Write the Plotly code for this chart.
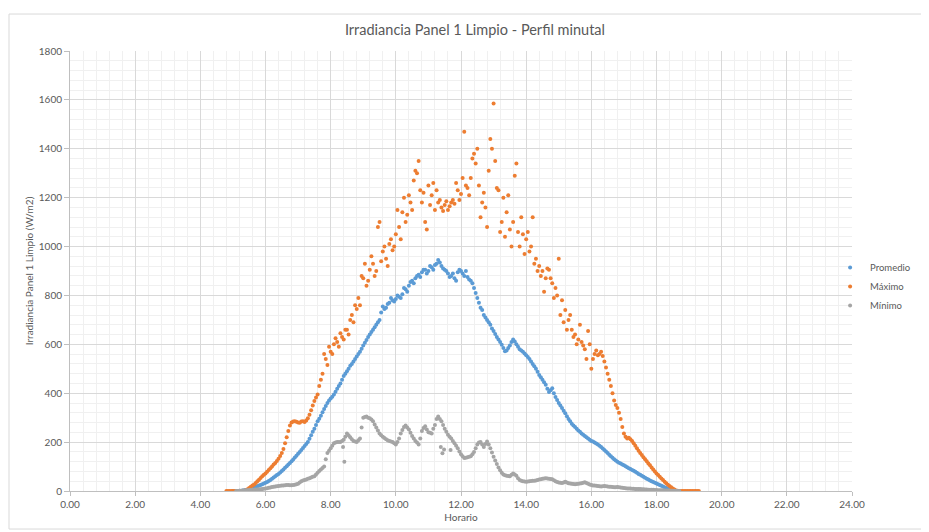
import plotly.graph_objects as go

# Horario: muestreo cada 0.1 h entre 4.8 y 19.3 h, más los minutos intermedios (x.x5)
horario = [round(4.8 + 0.1 * i, 1) for i in range(146)]
horario_medio = [round(4.85 + 0.1 * i, 2) for i in range(145)]

maximo = [
    0, 0,
    0, 0, 0, 0, 3, 12, 22, 33, 46, 60,
    72, 86, 100, 115, 132, 155, 195, 245, 280, 285,
    280, 284, 282, 298, 330, 368, 395, 455, 560, 515,
    570, 600, 610, 645, 620, 660, 700, 690, 745, 760,
    870, 840, 905, 930, 900, 1100, 980, 950, 1010, 985,
    1050, 1080, 1140, 1100, 1210, 1150, 1310, 1350, 1180, 1100,
    1250, 1210, 1150, 1180, 1160, 1170, 1150, 1180, 1175, 1230,
    1215, 1470, 1240, 1280, 1380, 1400, 1120, 1220, 1080, 1440,
    1585, 1240, 1060, 1200, 1140, 1070, 1100, 1340, 1000, 1050,
    1030, 980, 1120, 950, 920, 900, 870, 905, 850, 830,
    950, 780, 740, 700, 660, 640, 620, 610, 580, 655,
    500, 560, 555, 570, 530, 480, 430, 370, 340, 295,
    235, 215, 212, 195, 175, 155, 138, 122, 105, 88,
    72, 58, 45, 32, 20, 10, 2, 0, 0, 0,
    0, 0, 0, 0,
]
maximo_medio = [
    0, 0,
    0, 0, 0, 1, 7, 17, 27, 40, 53, 66,
    79, 93, 108, 123, 143, 172, 220, 268, 284, 283,
    279, 285, 288, 312, 350, 382, 430, 480, 540, 590,
    560, 625, 590, 630, 660, 640, 720, 760, 790, 880,
    930, 860, 960, 880, 1080, 940, 1000, 920, 1030, 1000,
    1150, 1030, 1200, 1130, 1180, 1270, 1300, 1230, 1220, 1070,
    1170, 1260, 1230, 1190, 1145, 1185, 1165, 1190, 1260, 1190,
    1280, 1250, 1210, 1360, 1340, 1250, 1180, 1160, 1310, 1400,
    1350, 1230, 1100, 1040, 1210, 1000, 1290, 1060, 1120, 970,
    1060, 1000, 930, 900, 880, 815, 910, 870, 790, 800,
    720, 690, 660, 720, 630, 600, 680, 595, 540, 600,
    540, 575, 560, 552, 505, 455, 400, 352, 320, 262,
    222, 218, 205, 185, 165, 147, 130, 113, 96, 80,
    65, 51, 38, 26, 15, 6, 1, 0, 0, 0,
    0, 0, 0,
]

promedio = [
    None, None,
    0, 0, 1, 2, 4, 7, 12, 17, 22, 28,
    34, 41, 50, 60, 70, 82, 95, 108, 122, 137,
    152, 168, 184, 200, 228, 255, 285, 308, 335, 360,
    378, 395, 418, 440, 470, 490, 512, 530, 550, 570,
    595, 618, 640, 660, 680, 700, 755, 750, 770, 780,
    785, 795, 805, 825, 840, 860, 870, 885, 895, 905,
    900, 915, 925, 945, 920, 905, 890, 880, 870, 895,
    900, 880, 875, 860, 830, 790, 750, 720, 700, 680,
    655, 630, 610, 585, 575, 595, 620, 600, 580, 570,
    555, 540, 520, 500, 475, 455, 435, 405, 420, 385,
    360, 340, 318, 295, 275, 262, 248, 235, 225, 215,
    205, 198, 190, 180, 168, 155, 142, 130, 120, 112,
    105, 97, 90, 83, 75, 66, 58, 50, 43, 37,
    31, 25, 18, 12, 7, 3, 0, None, None, None,
    None, None, None, None,
]
promedio_medio = [
    None, None,
    0, 0, 1, 3, 5, 9, 14, 19, 25, 31,
    37, 45, 55, 65, 76, 88, 101, 115, 129, 144,
    160, 176, 192, 214, 242, 270, 296, 322, 348, 370,
    386, 406, 430, 455, 480, 500, 520, 540, 560, 582,
    606, 630, 650, 670, 690, 730, 745, 765, 790, 775,
    800, 790, 830, 815, 855, 850, 880, 875, 905, 890,
    920, 905, 930, 935, 910, 900, 875, 890, 860, 905,
    890, 900, 865, 850, 810, 770, 740, 710, 690, 665,
    642, 620, 598, 572, 585, 610, 612, 590, 575, 562,
    548, 530, 510, 488, 465, 445, 418, 412, 400, 372,
    350, 328, 306, 285, 268, 255, 242, 230, 220, 210,
    202, 194, 185, 174, 162, 148, 136, 125, 116, 108,
    101, 93, 86, 79, 70, 62, 54, 47, 40, 34,
    28, 21, 15, 9, 5, 1, None, None, None, None,
    None, None, None,
]

minimo = [
    None, None,
    None, 0, 1, 2, 3, 4, 5, 6, 7, 8,
    10, 13, 16, 18, 20, 22, 24, 25, 24, 26,
    30, 40, 45, 50, 55, 60, 75, 88, 100, 155,
    175, 195, 200, 200, 210, 235, 220, 205, 200, 215,
    300, 305, 298, 285, 260, 235, 222, 212, 205, 200,
    190, 215, 250, 268, 252, 225, 205, 190, 245, 265,
    240, 235, 270, 305, 285, 255, 230, 215, 195, 175,
    150, 135, 138, 142, 160, 190, 200, 180, 202, 175,
    140, 110, 85, 68, 62, 60, 72, 62, 45, 40,
    38, 40, 42, 43, 47, 50, 52, 50, 48, 40,
    35, 33, 38, 32, 30, 28, 30, 32, 36, 30,
    25, 22, 20, 18, 20, 18, 17, 15, 16, 14,
    12, 10, 10, 9, 8, 8, 7, 6, 5, 5,
    4, 3, 3, 2, 2, 1, 1, 0, None, None,
    None, None, None, None,
]
minimo_medio = [
    None, None,
    None, 0, 1, 2, 3, 4, 5, 6, 7, 9,
    11, 14, 17, 19, 21, 23, 25, 24, 25, 28,
    35, 43, 47, 52, 58, 68, 82, 94, 130, 165,
    185, 198, 200, 205, 222, 228, 212, 202, 208, 260,
    303, 300, 292, 272, 248, 228, 217, 208, 202, 195,
    200, 235, 262, 260, 238, 215, 198, 215, 258, 252,
    238, 255, 295, 295, 270, 242, 222, 205, 185, 162,
    142, 136, 140, 150, 175, 198, 190, 192, 190, 158,
    125, 96, 75, 64, 61, 66, 67, 52, 42, 39,
    39, 41, 42, 45, 48, 51, 51, 49, 44, 37,
    34, 35, 35, 31, 29, 29, 31, 34, 33, 27,
    23, 21, 19, 19, 19, 17, 16, 15, 15, 13,
    11, 10, 9, 8, 8, 7, 6, 5, 5, 4,
    3, 3, 2, 2, 1, 1, 0, None, None, None,
    None, None, None,
]
# minutos sueltos del mínimo que se salen de la curva
horario_min_sueltos = [8.38, 8.42, 11.38, 11.43, 11.48, 11.68]
minimo_sueltos = [180, 120, 180, 154, 170, 168]

series = [
    ("Promedio", horario + horario_medio, promedio + promedio_medio, "#5B9BD5"),
    ("Máximo", horario + horario_medio, maximo + maximo_medio, "#ED7D31"),
    ("Mínimo", horario + horario_medio + horario_min_sueltos,
     minimo + minimo_medio + minimo_sueltos, "#A5A5A5"),
]

fig = go.Figure()
for nombre, x, y, color in series:
    fig.add_trace(go.Scatter(
        x=x, y=y, name=nombre, mode="markers",
        marker=dict(size=4, color=color, line=dict(width=0)),
    ))

gris = "#595959"
# la página deja 8 px de margen en el body: figura 8 px más pequeña
fig.update_layout(
    width=921,
    height=524,
    margin=dict(l=62, r=77, t=43, b=41, autoexpand=False),
    paper_bgcolor="white",
    plot_bgcolor="white",
    font=dict(family="Lato", size=10, color=gris),
    title=dict(
        text="Irradiancia Panel 1 Limpio - Perfil minutal",
        x=0.507, y=0.958, xanchor="center", yanchor="middle",
        font=dict(size=14.5, color=gris),
    ),
    legend=dict(
        x=0.972, xanchor="left", y=0.465, yanchor="middle",
        font=dict(size=9.5, color=gris),
        bgcolor="rgba(0,0,0,0)",
    ),
    xaxis=dict(
        range=[0, 24], tick0=0, dtick=2, tickformat=".2f",
        showgrid=True, gridcolor="#D9D9D9", gridwidth=1,
        minor=dict(dtick=0.4, showgrid=True, gridcolor="#F0F0F0"),
        showline=True, linecolor="#BFBFBF", ticks="outside", ticklen=4, tickcolor="#BFBFBF",
        zeroline=False, automargin=False,
        title=dict(text="Horario", font=dict(size=10, color=gris), standoff=4),
    ),
    yaxis=dict(
        range=[0, 1800], tick0=0, dtick=200,
        showgrid=True, gridcolor="#D9D9D9", gridwidth=1,
        minor=dict(dtick=40, showgrid=True, gridcolor="#F0F0F0"),
        showline=True, linecolor="#BFBFBF", ticks="outside", ticklen=5, tickcolor="#BFBFBF",
        zeroline=False, automargin=False,
        title=dict(text="Irradiancia Panel 1 Limpio (W/m2)", font=dict(size=10, color=gris), standoff=3),
    ),
    shapes=[dict(
        type="rect", xref="paper", yref="paper",
        x0=-0.078, x1=1.0895, y0=-0.0864, y1=1.084,
        line=dict(color="#D9D9D9", width=1), fillcolor="rgba(0,0,0,0)", layer="below",
    )],
)

fig.write_html("out.html")
